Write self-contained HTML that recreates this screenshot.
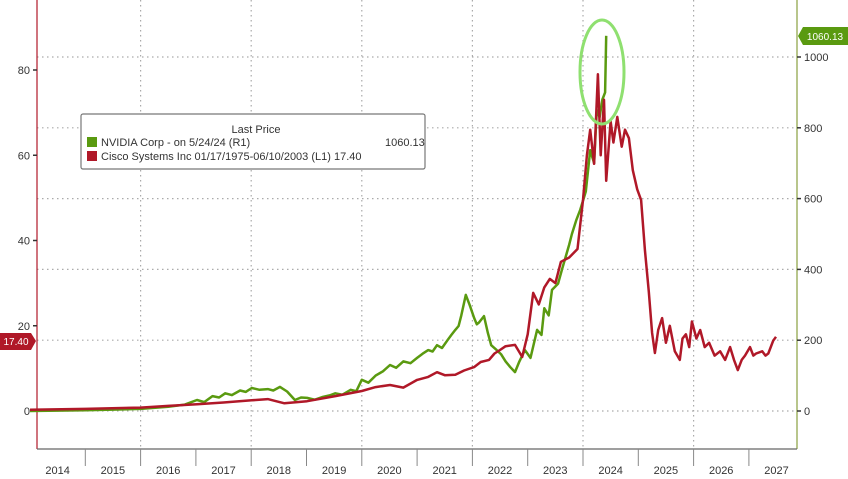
<!DOCTYPE html>
<html><head><meta charset="utf-8">
<style>
html,body{margin:0;padding:0;background:#fff;}
svg{display:block;font-family:"Liberation Sans",sans-serif;}
</style></head>
<body>
<svg id="chart" width="848" height="479" viewBox="0 0 848 479">
  <g id="grid"></g>
  <g id="axes"></g>
  <g id="series"></g>
  <ellipse cx="602" cy="72" rx="22" ry="52" fill="none" stroke="#8fe070" stroke-width="3"/>
  <g>
    <rect x="81" y="114" width="344" height="55" fill="#fff" stroke="#777" stroke-width="1.2" rx="2"/>
    <text x="256" y="133" font-size="11" text-anchor="middle" fill="#333">Last Price</text>
    <rect x="87" y="137" width="10" height="10" fill="#5a9a10"/>
    <text x="101" y="146" font-size="11" fill="#333">NVIDIA Corp -  on 5/24/24  (R1)</text>
    <text x="385" y="146" font-size="11" fill="#333">1060.13</text>
    <rect x="87" y="151" width="10" height="10" fill="#b01828"/>
    <text x="101" y="160" font-size="11" fill="#333">Cisco Systems Inc 01/17/1975-06/10/2003   (L1) 17.40</text>
  </g>
  <g>
    <path d="M0,333 H31 L36,341 L31,350 H0 Z" fill="#b01828"/>
    <text x="16" y="345" font-size="10" fill="#fff" text-anchor="middle">17.40</text>
  </g>
  <g>
    <path d="M798,36 L803,27 H848 V45 H803 Z" fill="#5a9a10"/>
    <text x="825" y="40" font-size="10" fill="#fff" text-anchor="middle">1060.13</text>
  </g>
</svg>
<script>
const years = [2014,2015,2016,2017,2018,2019,2020,2021,2022,2023,2024,2025,2026,2027];
const leftTicks = [0,20,40,60,80];
const rightTicks = [0,200,400,600,800,1000];
const nvdaDates = [2014.0,2014.5,2015.0,2015.5,2016.0,2016.5,2016.8,2017.02,2017.15,2017.3,2017.42,2017.53,2017.65,2017.8,2017.9,2018.01,2018.15,2018.3,2018.4,2018.52,2018.65,2018.79,2018.9,2019.01,2019.15,2019.3,2019.42,2019.52,2019.65,2019.8,2019.9,2020.0,2020.12,2020.25,2020.38,2020.51,2020.62,2020.75,2020.88,2021.0,2021.1,2021.2,2021.28,2021.36,2021.45,2021.55,2021.62,2021.69,2021.75,2021.8,2021.88,2021.95,2022.03,2022.08,2022.12,2022.21,2022.28,2022.34,2022.44,2022.52,2022.6,2022.68,2022.77,2022.85,2022.95,2023.05,2023.17,2023.25,2023.3,2023.38,2023.44,2023.55,2023.62,2023.67,2023.75,2023.8,2023.88,2023.95,2024.05,2024.13,2024.2,2024.25,2024.3,2024.35,2024.4,2024.42];
const nvdaValues = [0,1,2,4,6,12,18,31,25,42,38,50,45,58,54,65,60,62,58,68,55,31,38,37,32,40,44,50,46,60,56,88,80,100,112,130,122,140,135,150,162,172,168,186,178,200,215,229,240,270,328,300,263,245,250,268,220,186,172,160,140,125,110,140,172,150,229,215,290,270,342,360,400,427,470,500,540,568,620,737,700,850,830,880,900,1060];
const cscoDates = [2014.0,2015.0,2016.0,2016.5,2017.02,2017.5,2018.01,2018.3,2018.6,2019.01,2019.52,2020.0,2020.25,2020.51,2020.75,2021.0,2021.2,2021.36,2021.5,2021.69,2021.85,2022.03,2022.15,2022.3,2022.4,2022.5,2022.6,2022.77,2022.9,2023.0,2023.1,2023.2,2023.3,2023.4,2023.5,2023.6,2023.75,2023.9,2024.0,2024.07,2024.13,2024.2,2024.27,2024.32,2024.38,2024.42,2024.5,2024.55,2024.62,2024.7,2024.76,2024.83,2024.9,2024.98,2025.05,2025.12,2025.19,2025.25,2025.3,2025.36,2025.43,2025.5,2025.57,2025.66,2025.75,2025.8,2025.86,2025.92,2025.97,2026.05,2026.12,2026.2,2026.28,2026.38,2026.48,2026.57,2026.66,2026.73,2026.8,2026.87,2026.93,2027.02,2027.08,2027.13,2027.24,2027.3,2027.35,2027.44,2027.49];
const cscoValues = [0.3,0.5,0.8,1.2,1.6,2.0,2.5,2.8,1.8,2.3,3.5,4.7,5.6,6.1,5.5,7.3,8.0,9.1,8.4,8.5,9.5,10.3,11.5,12,13.5,14.3,15.2,15.5,12.7,18,27.7,25,29,31,30,35,36,38,49.5,60,66,58,79,60,73,54,68,63,69,62,66,64,56.5,52,49.5,37.8,28,18.3,13.6,19,21.8,16,20,14,12,17,18,15,21,17,19,15,16,13,14,12,15,12,9.6,12,13,15,13,13.5,14,13,13.5,16.5,17.4];

const NS='http://www.w3.org/2000/svg';
const X0=37,X1=797,YB=449;
function xOf(t){return 30+(t-2014)*55.3;}
function yL(v){return 411-v*4.2625;}
function yR(v){return 411-v*0.354;}
function mk(tag,attrs,parent){const e=document.createElementNS(NS,tag);for(const k in attrs)e.setAttribute(k,attrs[k]);parent.appendChild(e);return e;}
const grid=document.getElementById('grid'),axes=document.getElementById('axes'),series=document.getElementById('series');

rightTicks.forEach(v=>{
  const l=mk('line',{x1:X0,x2:X1,y1:yR(v),y2:yR(v),stroke:'#aaa','stroke-width':1.2,'stroke-dasharray':'1.5 3.5'},grid);
  
  
});
years.forEach((y,i)=>{
  if(i>=2 && i%2===0 && i<=12){
    const l=mk('line',{x1:xOf(y),x2:xOf(y),y1:0,y2:YB,stroke:'#aaa','stroke-width':1.2,'stroke-dasharray':'1.5 3.5'},grid);
    
    
  }
});
const la=mk('line',{x1:X0,x2:X0,y1:0,y2:YB,stroke:'#b01828','stroke-width':1.2},axes);


const ra=mk('line',{x1:X1,x2:X1,y1:0,y2:YB,stroke:'#8aa040','stroke-width':1.2},axes);


const ba=mk('line',{x1:X0,x2:X1,y1:YB,y2:YB,stroke:'#666','stroke-width':1.2},axes);


leftTicks.forEach(v=>{
  mk('line',{x1:X0-4,x2:X0,y1:yL(v),y2:yL(v),stroke:'#333','stroke-width':1.5},axes);
  const t=mk('text',{x:X0-7,y:yL(v)+4,'font-size':11,'text-anchor':'end',fill:'#333'},axes);
  t.textContent=v;
  
  
});
rightTicks.forEach(v=>{
  mk('line',{x1:X1,x2:X1+4,y1:yR(v),y2:yR(v),stroke:'#333','stroke-width':1.5},axes);
  const t=mk('text',{x:X1+7,y:yR(v)+4,'font-size':11,fill:'#333'},axes);
  t.textContent=v;
  
  
});
years.forEach((y,i)=>{
  if(i>0) mk('line',{x1:xOf(y),x2:xOf(y),y1:YB,y2:YB+17,stroke:'#888','stroke-width':1},axes);
  const t=mk('text',{x:xOf(y)+27.6,y:474,'font-size':11,'text-anchor':'middle',fill:'#333'},axes);
  t.textContent=y;
  
  
});
function line(dates,vals,yf,color,name){
  const d=dates.map((t,i)=>(i?'L':'M')+xOf(t).toFixed(1)+','+yf(vals[i]).toFixed(1)).join(' ');
  const p=mk('path',{d:d,fill:'none',stroke:color,'stroke-width':2.5,'stroke-linejoin':'round'},series);
  
  
}
line(nvdaDates,nvdaValues,yR,'#5a9a10','nvidia-line');
line(cscoDates,cscoValues,yL,'#b01828','cisco-line');
</script>
</body></html>
